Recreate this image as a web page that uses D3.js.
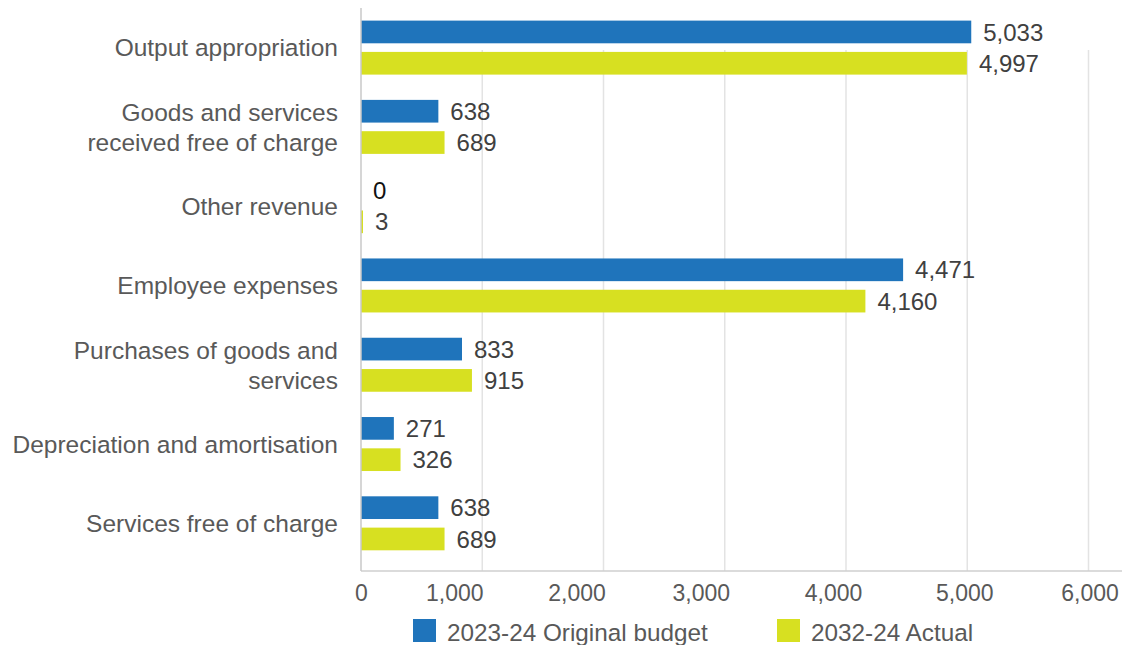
<!DOCTYPE html>
<html>
<head>
<meta charset="utf-8">
<script src="https://cdn.jsdelivr.net/npm/d3@7"></script>
<style>
  html, body { margin: 0; padding: 0; background: #ffffff; }
  svg { display: block; }
  text { font-family: "Liberation Sans", Arial, sans-serif; }
</style>
</head>
<body>
<svg id="chart" width="1125" height="645"></svg>
<script>
// Categories (label lines) and the two series, in thousands
const categories = [
  ["Output appropriation"],
  ["Goods and services", "received free of charge"],
  ["Other revenue"],
  ["Employee expenses"],
  ["Purchases of goods and", "services"],
  ["Depreciation and amortisation"],
  ["Services free of charge"]
];
const seriesNames = ["2023-24 Original budget", "2032-24 Actual"];
const budget = [5033, 638, 0, 4471, 833, 271, 638];
const actual = [4997, 689, 3, 4160, 915, 326, 689];
const xTicks = [0, 1000, 2000, 3000, 4000, 5000, 6000];

const colors = ["#1f74bb", "#d7e021"];
const svg = d3.select("#chart");
const keys = categories.map(c => c.join(" "));

const x = d3.scaleLinear().domain([0, 6000]).range([361, 1088.5]);
const y = d3.scaleBand().domain(keys).range([8, 563]);
const ySub = d3.scaleBand().domain(seriesNames)
  .range([12.6, 66.6]).paddingInner(0.275);

const plotTop = 8, plotBottom = 571;

// vertical gridlines
svg.append("g").selectAll("line")
  .data(xTicks.filter(t => t > 0))
  .join("line")
  .attr("x1", d => x(d)).attr("x2", d => x(d))
  .attr("y1", 50).attr("y2", plotBottom)
  .attr("stroke", "#e3e3e3").attr("stroke-width", 1.5);

// bottom axis with tick labels
const xAxis = d3.axisBottom(x).tickValues(xTicks)
  .tickFormat(d3.format(",")).tickSize(0).tickPadding(14);
const gx = svg.append("g").attr("transform", `translate(0,${plotBottom})`).call(xAxis);
gx.select(".domain").remove();
const tickShift = [0, -28, -27, -24, -13, -3, 1];
gx.selectAll(".tick text")
  .attr("dx", (d, i) => tickShift[i])
  .attr("font-size", 23).attr("fill", "#595959")
  .attr("font-family", "Liberation Sans, Arial, sans-serif");

svg.append("line")
  .attr("x1", 361).attr("x2", 1122)
  .attr("y1", plotBottom).attr("y2", plotBottom)
  .attr("stroke", "#cfcfcf").attr("stroke-width", 1.5);

// bars (tiny non-zero values keep a hairline so they stay visible)
const rows = keys.map((k, i) => ({ key: k, values: [budget[i], actual[i]] }));
const groups = svg.append("g").selectAll("g")
  .data(rows).join("g")
  .attr("transform", d => `translate(0,${y(d.key)})`);

const barWidth = v => v > 0 ? Math.max(2, x(v) - x(0)) : 0;

groups.selectAll("rect")
  .data(d => d.values.map((v, j) => ({ v, s: seriesNames[j], j })))
  .join("rect")
  .attr("x", x(0))
  .attr("y", d => ySub(d.s))
  .attr("width", d => barWidth(d.v))
  .attr("height", ySub.bandwidth())
  .attr("fill", d => colors[d.j]);

groups.selectAll("text.val")
  .data(d => d.values.map((v, j) => ({ v, s: seriesNames[j], j })))
  .join("text")
  .attr("class", "val")
  .attr("x", d => x(0) + barWidth(d.v) + 12)
  .attr("y", d => ySub(d.s) + ySub.bandwidth() / 2)
  .attr("dy", "0.36em")
  .attr("font-size", 24)
  .attr("fill", d => d.v === 0 ? "#111111" : "#404040")
  .text(d => d3.format(",")(d.v));

// vertical axis line
svg.append("line")
  .attr("x1", 361).attr("x2", 361)
  .attr("y1", plotTop).attr("y2", plotBottom)
  .attr("stroke", "#c8c8c8").attr("stroke-width", 1.5);

// category labels
const lineH = 30;
svg.append("g").selectAll("text")
  .data(categories).join("text")
  .attr("text-anchor", "end")
  .attr("font-size", 24.5)
  .attr("fill", "#595959")
  .each(function (lines, i) {
    const cy = y(keys[i]) + y.bandwidth() / 2;
    const t = d3.select(this);
    lines.forEach((ln, k) => {
      t.append("tspan")
        .attr("x", 338)
        .attr("y", cy + (k - (lines.length - 1) / 2) * lineH)
        .attr("dy", "0.36em")
        .text(ln);
    });
  });

// legend
const legendX = [413, 777];
const lg = svg.append("g").selectAll("g")
  .data(seriesNames).join("g")
  .attr("transform", (d, i) => `translate(${legendX[i]},619)`);
lg.append("rect").attr("width", 23).attr("height", 23)
  .attr("fill", (d, i) => colors[i]);
lg.append("text").attr("x", 34).attr("y", 22)
  .attr("font-size", 24.3).attr("fill", "#595959")
  .text(d => d);
</script>
</body>
</html>
